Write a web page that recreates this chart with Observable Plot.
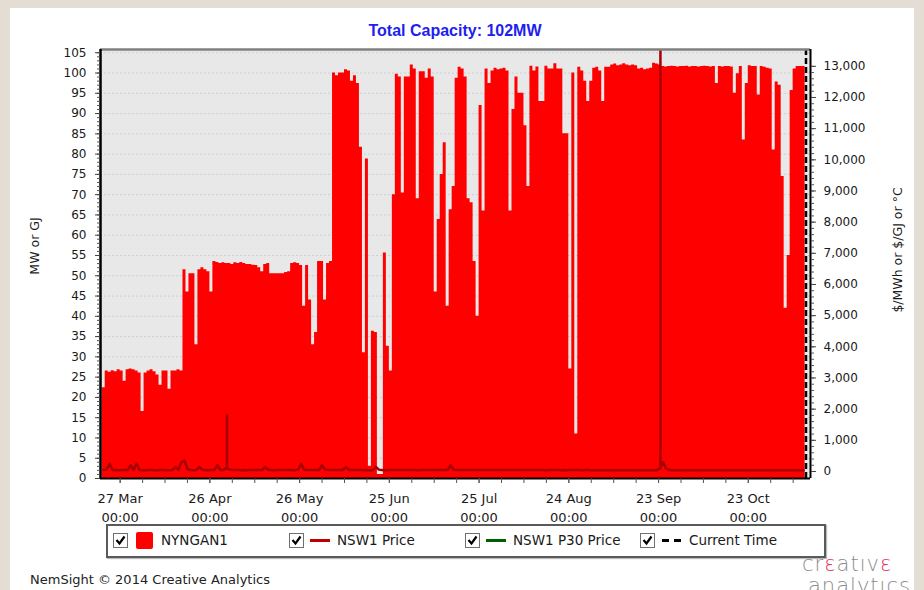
<!DOCTYPE html>
<html><head><meta charset="utf-8">
<script src="https://cdn.jsdelivr.net/npm/d3@7"></script>
<script src="https://cdn.jsdelivr.net/npm/@observablehq/plot@0.6"></script>
<style>
html,body{margin:0;padding:0;}
body{width:924px;height:590px;background:#e4ddd3;position:relative;overflow:hidden;font-family:"DejaVu Sans",sans-serif;color:#1a1a1a;}
#panel{position:absolute;left:10px;top:8px;width:904px;height:600px;background:#fff;}
#chart{position:absolute;left:0;top:0;}
#title{position:absolute;left:100px;width:710px;top:22px;text-align:center;font:bold 16px "Liberation Sans",Arial,sans-serif;color:#1e1ef0;}
.ylab{position:absolute;white-space:nowrap;font-size:12.5px;transform:translate(-50%,-50%) rotate(-90deg);}
#legend{position:absolute;left:106px;top:524px;width:716px;height:30px;border:2px solid #5a5a5a;box-shadow:1px 1px 1px #bbb;}
.lg{position:absolute;font-size:13.5px;top:532px;white-space:nowrap;}
.cb{position:absolute;top:533px;width:13px;height:13px;border:1px solid #707070;background:#fff;}
.cb svg{position:absolute;left:1px;top:1px;}
#footer{position:absolute;left:30px;top:572px;font-size:13px;color:#222;white-space:nowrap;}
.logo{position:absolute;font-family:"DejaVu Sans",sans-serif;font-weight:200;font-size:21px;color:#8c8c8c;line-height:20px;letter-spacing:1px;white-space:nowrap;}
.logo span{color:#e5355a;}
</style>
</head><body>
<div id="panel"></div>
<div id="chart"></div>
<div id="title">Total Capacity: 102MW</div>
<div class="ylab" style="left:34px;top:246px;">MW or GJ</div>
<div class="ylab" style="left:897px;top:250px;">$/MWh or $/GJ or °C</div>
<div id="legend"></div>
<div class="cb" style="left:113px;"><svg width="11" height="11"><polyline points="1.5,5 4.5,8.5 9.5,1.5" fill="none" stroke="#000" stroke-width="2.2"/></svg></div>
<div style="position:absolute;left:136px;top:532px;width:17px;height:17px;background:#ff0000;border-radius:2px;"></div>
<div class="lg" style="left:161px;">NYNGAN1</div>
<div class="cb" style="left:289px;"><svg width="11" height="11"><polyline points="1.5,5 4.5,8.5 9.5,1.5" fill="none" stroke="#000" stroke-width="2.2"/></svg></div>
<div style="position:absolute;left:310px;top:539px;width:20px;height:2.5px;background:#c00000;"></div>
<div class="lg" style="left:337px;">NSW1 Price</div>
<div class="cb" style="left:465px;"><svg width="11" height="11"><polyline points="1.5,5 4.5,8.5 9.5,1.5" fill="none" stroke="#000" stroke-width="2.2"/></svg></div>
<div style="position:absolute;left:486px;top:539px;width:20px;height:2.5px;background:#006000;"></div>
<div class="lg" style="left:513px;">NSW1 P30 Price</div>
<div class="cb" style="left:640px;"><svg width="11" height="11"><polyline points="1.5,5 4.5,8.5 9.5,1.5" fill="none" stroke="#000" stroke-width="2.2"/></svg></div>
<div style="position:absolute;left:662px;top:539px;width:7px;height:3px;background:#000;"></div>
<div style="position:absolute;left:674px;top:539px;width:7px;height:3px;background:#000;"></div>
<div class="lg" style="left:689px;">Current Time</div>
<div id="footer">NemSight © 2014 Creative Analytics</div>
<div class="logo" style="left:802px;top:554px;">cr<span>ε</span>atıv<span>ε</span></div>
<div class="logo" style="left:808px;top:576px;">analytıcs</div>
<script>
// ---- data ----
const seriesStart = "2015-03-21";            // first day of the daily arrays
// NYNGAN1 daily peak output (MW), 21 Mar 2015 .. 11 Nov 2015
const nynganPeakMW = [
 22.4, 26.5, 26.2, 26.6, 26.3, 26.8, 26.5, 24, 26.8, 27,
 26.8, 26.5, 26, 16.5, 26, 26.5, 26.8, 26.3, 25.5, 23,
 26.5, 26.5, 22, 26.5, 26.5, 26.8, 26.5, 51.5, 46, 50.5,
 50.5, 33, 51.5, 52, 51.5, 51, 46, 53.5, 53.3, 53,
 53.2, 53, 53, 52.8, 53.2, 53, 53.3, 53, 52.8, 52.8,
 52.6, 52.5, 52, 51, 52.8, 53, 50.5, 50.5, 50.5, 50.5,
 50.5, 50.8, 51, 53, 53.2, 53, 52.5, 42.5, 52.5, 44,
 33, 36, 53.5, 53.5, 44, 53, 53.5, 100, 99.3, 100,
 100, 100.8, 100.5, 98, 99.3, 97.4, 81.7, 31, 78.8, 3,
 36.3, 36, 1, 1, 55.6, 32.6, 26.5, 70, 99.7, 99,
 70.4, 99, 99, 102, 101, 69, 100.3, 100.3, 98.7, 101,
 99, 46, 63.9, 75, 82.8, 42.5, 66.3, 72, 98.7, 101.4,
 101, 99, 69, 68, 53.5, 40, 92, 66, 101, 97.4,
 100.5, 101.2, 100.8, 101, 101.2, 100.5, 66, 91, 99, 95,
 95, 87, 72, 101.7, 100.5, 101.5, 93, 93, 101.7, 101,
 101, 102.3, 101, 101, 85, 85, 27, 100, 11, 101.4,
 100.5, 98, 93, 98, 101.2, 101.4, 100.5, 93, 101.4, 101.4,
 102, 102.2, 101.8, 102, 102.3, 102, 101.8, 102, 101.8, 101,
 101.2, 100.8, 101, 101.2, 102.4, 102.2, 102, 101.6, 101.5, 101.6,
 101.7, 101.6, 101.5, 101.6, 101.6, 101.7, 101.5, 101.6, 101.6, 101.5,
 101.6, 101.7, 101.6, 101.5, 101.6, 97.4, 101.6, 101.5, 101.6, 101.6,
 101.5, 95, 99.8, 101.6, 83.5, 97.4, 101.8, 101.6, 101.6, 94.6,
 101.6, 101.4, 101.2, 101, 81, 97.8, 97, 74.5, 42, 55,
 95.7, 101, 101.6, 101.6, 101.6
];
// NSW1 daily price ($/MWh), same days
const nsw1Price = [
 45, 60, 250, 50, 45, 42, 48, 44, 46, 200,
 50, 250, 45, 42, 40, 44, 46, 43, 41, 45,
 44, 42, 40, 45, 150, 60, 300, 350, 80, 45,
 42, 44, 150, 48, 45, 42, 46, 44, 200, 50,
 45, 120, 60, 48, 44, 46, 42, 45, 43, 47,
 45, 44, 48, 46, 150, 50, 44, 42, 45, 47,
 44, 46, 48, 45, 43, 60, 250, 55, 46, 44,
 45, 48, 46, 200, 60, 47, 45, 44, 46, 48,
 50, 150, 48, 45, 44, 46, 45, 43, 44, 42,
 45, 150, 60, 44, 42, 45, 46, 44, 45, 47,
 45, 44, 46, 48, 45, 43, 44, 46, 45, 47,
 46, 45, 44, 48, 47, 45, 200, 55, 46, 44,
 45, 47, 46, 44, 45, 48, 46, 45, 44, 46,
 45, 47, 46, 48, 45, 44, 46, 45, 47, 46,
 44, 45, 46, 48, 45, 44, 46, 45, 43, 44,
 45, 46, 44, 42, 45, 43, 44, 46, 45, 44,
 43, 45, 44, 42, 41, 43, 44, 42, 40, 42,
 41, 40, 42, 43, 41, 40, 39, 41, 42, 40,
 41, 40, 42, 41, 43, 40, 120, 300, 90, 45,
 42, 40, 41, 39, 40, 42, 41, 40, 38, 40,
 39, 41, 40, 38, 39, 40, 41, 39, 38, 40,
 39, 38, 40, 41, 39, 38, 40, 39, 37, 38,
 39, 40, 38, 37, 39, 38, 40, 39, 38, 37,
 38, 39, 37, 38, 39
];
const priceSpikeTimes = ["2015-05-01T17:00Z", "2015-09-23T15:00Z"];
const priceSpikeValues = [1830, 13800];
const currentTime = "2015-11-11T07:00Z";
const xTickDates = ["2015-03-27","2015-04-26","2015-05-26","2015-06-25","2015-07-25","2015-08-24","2015-09-23","2015-10-23"];
const leftTickValues = [0,5,10,15,20,25,30,35,40,45,50,55,60,65,70,75,80,85,90,95,100,105];
const rightTickValues = [0,1000,2000,3000,4000,5000,6000,7000,8000,9000,10000,11000,12000,13000];

// ---- build ----
const DAY = 864e5;
const t0 = new Date(seriesStart + "T00:00Z").getTime();
const gen = nynganPeakMW.map((mw, i) => ({t: new Date(t0 + i*DAY), mw}));
gen.push({t: new Date(t0 + nynganPeakMW.length*DAY), mw: nynganPeakMW[nynganPeakMW.length - 1]});
const price = nsw1Price.map((p, i) => ({date: new Date(t0 + (i+0.5)*DAY), p}));
const spikes = priceSpikeTimes.map((t, i) => ({date: new Date(t), p: priceSpikeValues[i]}));
// right axis ($/MWh) mapped onto left-axis units
const rOff = 1.73, rScale = 130.1;
const toLeft = p => rOff + p / rScale;
const fromLeft = v => (v - rOff) * rScale;

const firstTick = new Date(xTickDates[0] + "T00:00Z").getTime();
const xDomain = [new Date(firstTick - 6.57*DAY), new Date(firstTick + 230.8*DAY)];
const yDomain = [0, 105.8];
const minorX = d3.range(0, 226, 7.5).map(k => new Date(firstTick + k*DAY));
const majorX = xTickDates.map(s => new Date(s + "T00:00Z"));
const minorLeft = d3.range(0, 106, 1);
const minorRight = d3.range(0, 13001, 200).map(toLeft);
const fmtDay = d3.utcFormat("%d %b");

const chart = Plot.plot({
  width: 924, height: 525,
  marginLeft: 100, marginRight: 114, marginTop: 49, marginBottom: 47,
  x: {type: "utc", domain: xDomain, label: null},
  y: {domain: yDomain, label: null},
  style: {background: "transparent", fontFamily: "DejaVu Sans, sans-serif", fontSize: "12px", color: "#1a1a1a"},
  marks: [
    Plot.frame({fill: "#e8e8e8", stroke: null}),
    Plot.ruleY(leftTickValues.filter(v => v > 0), {stroke: "#cfcfcf", strokeOpacity: 1, strokeDasharray: "2,2"}),
    Plot.areaY(gen, {x: "t", y: "mw", curve: "step-after", fill: "#ff0000"}),
    Plot.line(price, {x: "date", y: d => toLeft(d.p), stroke: "#a80000", strokeWidth: 2.5, clip: true}),
    Plot.ruleX(spikes, {x: "date", y1: toLeft(45), y2: d => toLeft(d.p), stroke: "#a80000", strokeWidth: 2.5, clip: true}),
    Plot.ruleX([new Date(currentTime)], {stroke: "#000", strokeWidth: 2.5, strokeDasharray: "6,3"}),
    Plot.ruleY([yDomain[1]], {stroke: "#808080", strokeWidth: 2.5}),
    Plot.ruleY([yDomain[0]], {stroke: "#000", strokeWidth: 2}),
    Plot.ruleX([xDomain[0]], {stroke: "#000", strokeWidth: 2.5}),
    Plot.ruleX([xDomain[1]], {stroke: "#000", strokeWidth: 2}),
    Plot.axisY(minorLeft, {tickSize: 3, tickFormat: () => "", stroke: "#555", label: null}),
    Plot.axisY(leftTickValues, {tickSize: 5, tickPadding: 9, stroke: "#444", fontSize: 12, label: null}),
    Plot.axisY(minorRight, {anchor: "right", tickSize: 3, tickFormat: () => "", stroke: "#555", label: null}),
    Plot.axisY(rightTickValues.map(toLeft), {anchor: "right", tickSize: 5, tickPadding: 8, stroke: "#444", fontSize: 12,
      tickFormat: d => d3.format(",")(Math.round(fromLeft(d) / 100) * 100), label: null}),
    Plot.axisX(minorX, {tickSize: 5, tickFormat: () => "", stroke: "#555", label: null}),
    Plot.axisX(majorX, {tickSize: 5, tickPadding: 6, fontSize: 13, lineHeight: 1.45, stroke: "#555",
      tickFormat: d => fmtDay(d) + "\n00:00", label: null})
  ]
});
document.getElementById("chart").appendChild(chart);
</script>
</body></html>
